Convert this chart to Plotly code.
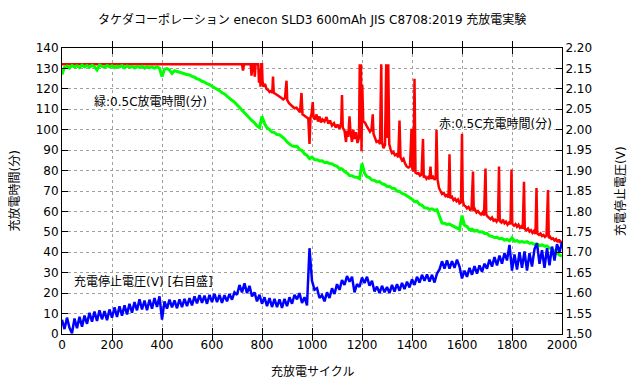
import plotly.graph_objects as go

# ---------------- data ----------------
cycles = list(range(0, 2001, 10))

# green: 0.5C discharge time (min), every 10 cycles
green_minutes = [
    127.0, 130.6, 131.2, 130.1, 131.5, 130.7, 131.3, 130.4, 131.6, 130.8,
    131.4, 130.6, 131.5, 130.9, 129.3, 131.7, 131.0, 130.5, 131.4, 130.8,
    131.3, 130.4, 131.1, 130.8, 131.4, 130.3, 131.2, 130.6, 131.0, 130.2,
    131.0, 130.5, 131.1, 130.1, 130.9, 130.4, 130.8, 130.2, 130.7, 130.1,
    126.0,
    129.6, 129.9, 129.2, 127.6, 128.9, 128.5, 128.0, 127.8, 127.4, 127.0,
    126.8, 126.1, 125.7, 124.9, 124.5, 123.7, 123.3, 122.5, 122.1, 121.3,
    120.7, 119.7, 119.1, 118.1, 117.5, 116.4, 115.6, 114.4, 113.5, 112.2,
    110.7, 109.3, 108.3, 106.7, 105.8, 104.4, 103.4, 101.9, 101.0, 106.5,
    103.0, 101.0, 100.0, 98.8, 98.6, 97.6, 97.5, 96.4, 95.6, 94.0,
    93.2, 92.1, 91.8, 91.9, 90.3, 89.8, 88.2, 87.4, 85.8, 86.6,
    85.4, 85.3, 84.7, 84.8, 84.0, 84.1, 83.4, 83.3, 82.5, 82.1,
    81.0, 80.8, 79.5, 78.8, 77.6, 77.5, 76.8, 76.7, 76.0, 83.5,
    78.8, 77.0, 76.6, 75.3, 75.2, 74.4, 74.6, 73.6, 73.2, 72.2,
    72.3, 71.3, 71.2, 70.0, 69.8, 68.8, 68.4, 67.4, 66.8, 66.0,
    64.8, 64.9, 63.4, 63.0, 61.8, 61.7, 61.0, 61.3, 60.6, 60.8,
    57.2, 54.3, 54.2, 53.6, 53.8, 53.2, 52.8, 51.8, 51.2, 58.0,
    53.2, 52.6, 51.0, 51.3, 50.4, 50.7, 49.9, 50.0, 49.2, 49.2,
    48.0, 47.8, 47.2, 47.3, 46.6, 46.8, 46.0, 46.3, 45.6, 47.0,
    45.4, 45.7, 45.0, 45.3, 44.8, 45.2, 44.4, 44.5, 43.8, 44.1,
    43.3, 43.6, 43.0, 43.1, 42.0, 41.8, 40.4, 39.8, 38.6, 38.2,
]

# red: 0.5C charge time (min), irregular cycles (spikes included)
red_cycles = [
    0, 720, 724, 728, 755, 758, 762, 768, 771, 774, 785, 788, 791, 794, 797,
    800, 802, 806, 812, 818, 824, 830, 836, 841, 844, 847, 855, 862, 870, 878,
    885, 892, 898, 901, 908, 915, 922, 930, 938, 945, 952, 958, 962, 970, 978,
    985, 990, 994, 998, 1003, 1006, 1012, 1018, 1024, 1030, 1036, 1042, 1050,
    1058, 1065, 1072, 1080, 1088, 1095, 1102, 1110, 1117, 1120, 1123, 1130,
    1136, 1140, 1145, 1150, 1154, 1160, 1165, 1170, 1176, 1182, 1188, 1191,
    1194, 1196, 1198, 1201, 1205, 1212, 1218, 1225, 1232, 1238, 1243, 1246,
    1252, 1258, 1265, 1272, 1277, 1280, 1286, 1292, 1297, 1300, 1305, 1309,
    1315, 1320, 1326, 1332, 1338, 1345, 1350, 1354, 1360, 1366, 1372, 1379,
    1385, 1392, 1398, 1401, 1406, 1410, 1414, 1420, 1426, 1432, 1438, 1444,
    1447, 1452, 1458, 1464, 1470, 1474, 1477, 1484, 1490, 1495, 1498, 1502,
    1508, 1514, 1520, 1527, 1534, 1540, 1546, 1550, 1553, 1560, 1566, 1572,
    1578, 1584, 1590, 1596, 1600, 1603, 1608, 1614, 1620, 1626, 1632, 1638,
    1644, 1647, 1652, 1658, 1664, 1670, 1676, 1682, 1688, 1694, 1697, 1702,
    1708, 1714, 1720, 1726, 1732, 1738, 1744, 1748, 1751, 1758, 1764, 1770,
    1776, 1782, 1788, 1794, 1798, 1801, 1808, 1814, 1820, 1826, 1832, 1838,
    1843, 1848, 1851, 1858, 1864, 1870, 1876, 1882, 1888, 1894, 1898, 1901,
    1908, 1914, 1920, 1926, 1932, 1938, 1944, 1947, 1952, 1958, 1964, 1970,
    1976, 1982, 1988, 1994, 2000,
]
red_minutes = [
    132, 132, 129, 132, 132, 126.5, 132, 132, 126, 132, 132, 123, 130, 121, 132,
    132, 124, 121, 122.5, 120, 119.5, 118.5, 119, 118, 126, 118, 117.5, 117, 116.5, 115.5,
    114.8, 115.5, 124, 114.5, 113, 112.2, 111.5, 110.5, 110.8, 109.5, 108.5, 118, 107.5, 106.8, 106,
    105.5, 93, 106, 107.5, 113.5, 106, 105, 107.5, 104, 106.5, 103.5, 105, 104,
    106.2, 103, 104.5, 102, 103.2, 101, 102.5, 100.5, 103.5, 117, 101, 99.5,
    94, 99.5, 96.5, 106.5, 99, 94, 100, 95.5, 98.8, 93.5, 96, 132,
    110, 132, 89.5, 122, 104, 103.5, 102, 100.5, 99, 100, 107.5, 98,
    96, 94, 94.5, 93, 132, 94, 91, 92.5, 132, 96, 132, 93,
    90, 88.5, 89, 87.5, 88, 86.5, 104.5, 86.5, 85, 85.8, 83.5, 82,
    81.5, 82, 100.5, 81, 79.5, 125, 79, 78.5, 78.8, 77.5, 78, 95.5,
    76.5, 77.5, 76, 76.8, 75.8, 82, 76, 77, 75.5, 76.5, 100, 75.8,
    71.5, 69.5, 68.5, 69, 67.5, 68, 66.8, 88, 66.5, 67.2, 65.5, 66.2,
    65, 65.8, 64, 64.5, 98, 65.5, 63, 62.5, 61.5, 62.2, 60.8, 61,
    79.5, 60.2, 61, 59.5, 60.2, 59.2, 58.5, 59.5, 58, 81, 58.5, 57.5,
    57, 56.2, 57, 55.5, 56, 55, 56.5, 82, 55.2, 54.5, 56, 54.2,
    55, 53.5, 54.5, 53.8, 80.5, 54, 53, 53.8, 52.5, 53.5, 52, 52.8,
    51.5, 74.5, 51.5, 50.8, 51.6, 50.2, 50.8, 49.5, 50.5, 49, 71.5, 49.2,
    48.5, 49.2, 48, 48.5, 47.5, 48.2, 70.5, 47, 47.6, 46.5, 46.8, 45.8,
    46.5, 45, 46.2, 44.5, 45.5,
]

# blue: charge stop voltage (V), every 10 cycles, right axis
blue_volts = [
    1.535, 1.512, 1.540, 1.515, 1.502, 1.538, 1.514, 1.542, 1.518, 1.545,
    1.525, 1.552, 1.530, 1.555, 1.532, 1.558, 1.536, 1.556, 1.534, 1.560,
    1.540, 1.565, 1.542, 1.568, 1.545, 1.570, 1.548, 1.574, 1.552, 1.578,
    1.558, 1.585, 1.560, 1.582, 1.558, 1.584, 1.562, 1.588, 1.566, 1.592,
    1.535,
    1.580, 1.562, 1.584, 1.565, 1.582, 1.563, 1.585, 1.566, 1.586, 1.568,
    1.588, 1.570, 1.592, 1.575, 1.595, 1.576, 1.594, 1.574, 1.596, 1.578,
    1.598, 1.578, 1.596, 1.576, 1.595, 1.580, 1.598, 1.584, 1.602, 1.596,
    1.620, 1.602, 1.624, 1.600, 1.618, 1.592, 1.602, 1.580, 1.596, 1.574,
    1.590, 1.568, 1.588, 1.566, 1.586, 1.566, 1.585, 1.564, 1.586, 1.568,
    1.590, 1.574, 1.596, 1.585, 1.600, 1.576, 1.590, 1.570, 1.710, 1.630,
    1.608, 1.612, 1.588, 1.595, 1.580, 1.602, 1.588, 1.612, 1.598, 1.622,
    1.608, 1.632, 1.620, 1.642, 1.628, 1.640, 1.602, 1.622, 1.615, 1.638,
    1.625, 1.640, 1.618, 1.630, 1.604, 1.616, 1.600, 1.618, 1.602, 1.615,
    1.600, 1.620, 1.604, 1.622, 1.606, 1.625, 1.610, 1.628, 1.614, 1.634,
    1.620, 1.640, 1.626, 1.645, 1.630, 1.646, 1.628, 1.645, 1.626, 1.648,
    1.658, 1.678, 1.660, 1.680, 1.660, 1.678, 1.662, 1.682, 1.665, 1.636,
    1.655, 1.640, 1.662, 1.645, 1.666, 1.648, 1.668, 1.652, 1.672, 1.660,
    1.682, 1.665, 1.688, 1.668, 1.692, 1.672, 1.698, 1.680, 1.718, 1.655,
    1.695, 1.658, 1.700, 1.662, 1.702, 1.655, 1.698, 1.665, 1.708, 1.722,
    1.672, 1.705, 1.662, 1.710, 1.668, 1.714, 1.680, 1.720, 1.700, 1.725,
]

x_ticks = list(range(0, 2001, 200))
title_text = "タケダコーポレーション enecon SLD3 600mAh JIS C8708:2019 充放電実験"
label_green = "緑:0.5C放電時間(分)"
label_red = "赤:0.5C充電時間(分)"
label_blue = "充電停止電圧(V) [右目盛]"

FONT = "DejaVu Sans, Noto Sans CJK JP, sans-serif"

fig = go.Figure()
fig.add_trace(go.Scatter(x=red_cycles, y=red_minutes, mode="lines",
                         line=dict(color="#ff0000", width=2.5), yaxis="y"))
fig.add_trace(go.Scatter(x=cycles, y=green_minutes, mode="lines",
                         line=dict(color="#00ff00", width=3), yaxis="y"))
fig.add_trace(go.Scatter(x=cycles, y=blue_volts, mode="lines",
                         line=dict(color="#0000ff", width=2.5), yaxis="y2"))

axis_common = dict(ticks="inside", ticklen=6, tickcolor="black", showline=True,
                   linecolor="black", linewidth=1, zeroline=False, automargin=False,
                   tickfont=dict(family=FONT, size=12, color="black"))

# page body adds an 8px offset; margins compensate so the plot box sits at 62..562 x 48..334
fig.update_layout(
    width=640, height=384,
    margin=dict(l=54, r=86, t=40, b=58),
    paper_bgcolor="white", plot_bgcolor="white",
    showlegend=False,
    font=dict(family=FONT, size=12, color="black"),
    xaxis=dict(range=[0, 2000], tickvals=x_ticks, mirror="allticks",
               showgrid=True, gridcolor="#a0a0a0", griddash="dot", gridwidth=1,
               **axis_common),
    yaxis=dict(range=[0, 140], dtick=10, mirror=True,
               showgrid=True, gridcolor="#a0a0a0", griddash="dot", gridwidth=1,
               **axis_common),
    yaxis2=dict(range=[1.5, 2.2], dtick=0.05, tickformat=".2f", overlaying="y",
                side="right", showgrid=False, **axis_common),
    annotations=[
        dict(text=title_text, xref="paper", yref="paper", x=0.5, y=1,
             yshift=38, showarrow=False, font=dict(size=12, family=FONT)),
        dict(text="充放電サイクル", xref="paper", yref="paper", x=0.5, y=0,
             yshift=-47, showarrow=False, font=dict(size=12, family=FONT)),
        dict(text="充放電時間(分)", xref="paper", yref="paper", x=0, y=0.5,
             xshift=-58, textangle=-90, showarrow=False, font=dict(size=12, family=FONT)),
        dict(text="充電停止電圧(V)", xref="paper", yref="paper", x=1, y=0.5,
             xshift=68, textangle=-90, showarrow=False, font=dict(size=12, family=FONT)),
        dict(text=label_green, x=120, y=114, xanchor="left", showarrow=False,
             font=dict(size=12, family=FONT)),
        dict(text=label_red, x=1500, y=103, xanchor="left", showarrow=False,
             font=dict(size=12, family=FONT)),
        dict(text=label_blue, x=40, y=25.5, xanchor="left", showarrow=False,
             font=dict(size=12, family=FONT)),
    ],
)

fig.write_html("out.html")
